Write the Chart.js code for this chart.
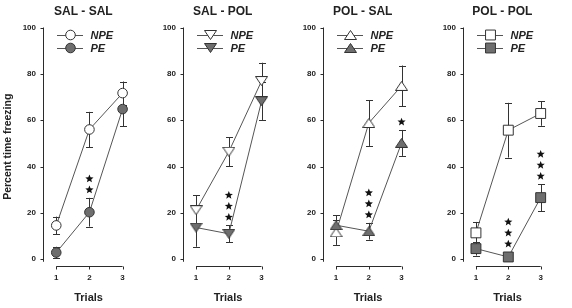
<!DOCTYPE html>
<html lang="en">
  <head>
    <meta charset="UTF-8" />
    <title>Percent time freezing</title>
    <script src="https://cdn.jsdelivr.net/npm/chart.js"></script>
    <style>
      body {
        margin: 0;
        background: #fff;
      }
      .wrap {
        position: relative;
        width: 572px;
        height: 308px;
        background: #fff;
      }
      .wrap canvas {
        position: absolute;
        top: 0;
      }
    </style>
  </head>
  <body>
    <div class="wrap">
      <canvas id="p0" width="140" height="308" style="left: 0px"></canvas>
      <canvas id="p1" width="140" height="308" style="left: 140px"></canvas>
      <canvas id="p2" width="140" height="308" style="left: 280px"></canvas>
      <canvas id="p3" width="140" height="308" style="left: 420px"></canvas>
    </div>

    <script>
      // x categories and y ticks
      const trials = [1, 2, 3];
      const yTicks = [0, 20, 40, 60, 80, 100];
      const panelTitles = ["SAL - SAL", "SAL - POL", "POL - SAL", "POL - POL"];

      // SAL - SAL
      const salSalNpe = [14.6, 56.0, 71.7];
      const salSalNpeErr = [3.8, 7.6, 5.0];
      const salSalPe = [2.9, 20.3, 64.8];
      const salSalPeErr = [2.5, 6.2, 7.5];
      const salSalStars = [0, 2, 0];

      // SAL - POL
      const salPolNpe = [21.2, 46.4, 76.9];
      const salPolNpeErr = [6.4, 6.2, 7.9];
      const salPolPe = [13.7, 11.0, 68.2];
      const salPolPeErr = [8.3, 3.7, 8.1];
      const salPolStars = [0, 3, 0];

      // POL - SAL
      const polSalNpe = [11.6, 58.8, 74.8];
      const polSalNpeErr = [5.4, 9.9, 8.8];
      const polSalPe = [14.7, 12.1, 50.2];
      const polSalPeErr = [4.4, 3.6, 5.6];
      const polSalStars = [0, 3, 1];

      // POL - POL
      const polPolNpe = [11.4, 55.7, 62.9];
      const polPolNpeErr = [4.7, 11.8, 5.3];
      const polPolPe = [4.6, 1.0, 26.6];
      const polPolPeErr = [3.0, 1.0, 5.8];
      const polPolStars = [0, 3, 3];

      Chart.defaults.font.family = "'Liberation Sans', Arial, sans-serif";
      Chart.defaults.color = "#222";

      const npeFill = "#ffffff";
      const peFill = "#6e6e6e";
      const edge = "#333";

      // flat SigmaPlot-like triangles as small canvases
      function triangleMarker(fill, down) {
        const c = document.createElement("canvas");
        c.width = 13;
        c.height = 10;
        const g = c.getContext("2d");
        g.fillStyle = fill;
        g.strokeStyle = edge;
        g.lineWidth = 1;
        g.beginPath();
        if (down) {
          g.moveTo(0.5, 0.5);
          g.lineTo(12.5, 0.5);
          g.lineTo(6.5, 9.5);
        } else {
          g.moveTo(0.5, 9.5);
          g.lineTo(12.5, 9.5);
          g.lineTo(6.5, 0.5);
        }
        g.closePath();
        g.fill();
        g.stroke();
        return c;
      }

      function markerFor(idx, fill) {
        if (idx === 0) return { pointStyle: "circle", radius: 4.8 };
        if (idx === 1) return { pointStyle: triangleMarker(fill, true), radius: 6 };
        if (idx === 2) return { pointStyle: triangleMarker(fill, false), radius: 6 };
        return { pointStyle: "rect", radius: 7 };
      }

      const panels = [
        { npe: salSalNpe, npeErr: salSalNpeErr, pe: salSalPe, peErr: salSalPeErr, stars: salSalStars },
        { npe: salPolNpe, npeErr: salPolNpeErr, pe: salPolPe, peErr: salPolPeErr, stars: salPolStars },
        { npe: polSalNpe, npeErr: polSalNpeErr, pe: polSalPe, peErr: polSalPeErr, stars: polSalStars },
        { npe: polPolNpe, npeErr: polPolNpeErr, pe: polPolPe, peErr: polPolPeErr, stars: polPolStars },
      ];

      const axisColor = "#2b2b2b";

      function drawStar(ctx, cx, cy, outer, inner) {
        ctx.beginPath();
        for (let i = 0; i < 10; i++) {
          const r = i % 2 ? inner : outer;
          const a = -Math.PI / 2 + (i * Math.PI) / 5;
          ctx.lineTo(cx + r * Math.cos(a), cy + r * Math.sin(a));
        }
        ctx.closePath();
        ctx.fill();
      }

      function drawMarker(ctx, ds, x, y) {
        ctx.save();
        ctx.fillStyle = ds.pointBackgroundColor;
        ctx.strokeStyle = ds.pointBorderColor;
        ctx.lineWidth = ds.pointBorderWidth;
        Chart.helpers.drawPoint(
          ctx,
          {
            pointStyle: ds.pointStyle,
            radius: ds.pointRadius,
            rotation: 0,
            borderWidth: ds.pointBorderWidth,
          },
          x,
          y
        );
        ctx.restore();
      }

      const panelDecor = {
        id: "panelDecor",
        beforeDatasetsDraw(chart, args, opts) {
          const ctx = chart.ctx;
          const xs = chart.scales.x;
          const ys = chart.scales.y;
          ctx.save();
          ctx.strokeStyle = axisColor;
          ctx.lineWidth = 1;

          // y axis with outward ticks
          const ax = Math.round(chart.chartArea.left) + 0.5;
          ctx.beginPath();
          ctx.moveTo(ax, ys.getPixelForValue(100));
          ctx.lineTo(ax, ys.getPixelForValue(0) + 2.5);
          yTicks.forEach((v) => {
            const py = Math.round(ys.getPixelForValue(v)) + 0.5;
            ctx.moveTo(ax, py);
            ctx.lineTo(ax - 3, py);
          });
          ctx.stroke();

          // x axis spanning first to last trial
          const by = Math.round(chart.chartArea.bottom) + 0.5;
          ctx.beginPath();
          ctx.moveTo(xs.getPixelForValue(trials[0]), by);
          ctx.lineTo(xs.getPixelForValue(trials[trials.length - 1]), by);
          trials.forEach((t) => {
            const px = Math.round(xs.getPixelForValue(t)) + 0.5;
            ctx.moveTo(px, by);
            ctx.lineTo(px, by + 3);
          });
          ctx.stroke();

          // error bars
          ctx.strokeStyle = edge;
          chart.data.datasets.forEach((ds) => {
            ds.data.forEach((p, i) => {
              const e = ds.errors[i];
              const px = Math.round(xs.getPixelForValue(p.x)) + 0.5;
              const top = ys.getPixelForValue(p.y + e);
              const bot = ys.getPixelForValue(p.y - e);
              ctx.beginPath();
              ctx.moveTo(px, top);
              ctx.lineTo(px, bot);
              ctx.moveTo(px - 3.5, Math.round(top) + 0.5);
              ctx.lineTo(px + 3.5, Math.round(top) + 0.5);
              ctx.moveTo(px - 3.5, Math.round(bot) + 0.5);
              ctx.lineTo(px + 3.5, Math.round(bot) + 0.5);
              ctx.stroke();
            });
          });
          ctx.restore();
        },
        afterDatasetsDraw(chart, args, opts) {
          const ctx = chart.ctx;
          const xs = chart.scales.x;
          const ys = chart.scales.y;
          const area = chart.chartArea;
          ctx.save();

          // significance stars above PE error bar
          const pe = chart.data.datasets[0];
          ctx.fillStyle = "#111";
          opts.stars.forEach((n, i) => {
            if (!n) return;
            const p = pe.data[i];
            const anchor = Math.min(
              ys.getPixelForValue(p.y + pe.errors[i]),
              ys.getPixelForValue(p.y) - 5
            );
            const px = xs.getPixelForValue(p.x);
            for (let k = 0; k < n; k++) {
              drawStar(ctx, px, anchor - 8 - k * 11, 4.3, 1.9);
            }
          });

          // panel title
          const cx = (area.left + xs.getPixelForValue(trials[trials.length - 1])) / 2 + 0.5;
          ctx.fillStyle = "#222";
          ctx.font = "bold 12px 'Liberation Sans', Arial, sans-serif";
          ctx.textAlign = "center";
          ctx.textBaseline = "middle";
          ctx.fillText(opts.title, cx, 11.5);

          // legend: NPE row then PE row
          const rows = [chart.data.datasets[1], chart.data.datasets[0]];
          ctx.font = "italic bold 11px 'Liberation Sans', Arial, sans-serif";
          ctx.textAlign = "left";
          rows.forEach((ds, r) => {
            const ly = 35 + r * 13;
            ctx.strokeStyle = "#555";
            ctx.lineWidth = 1;
            ctx.beginPath();
            ctx.moveTo(57, Math.round(ly) + 0.5);
            ctx.lineTo(83, Math.round(ly) + 0.5);
            ctx.stroke();
            drawMarker(ctx, ds, 70.5, ly);
            ctx.fillStyle = "#222";
            ctx.fillText(ds.label, 90.5, ly + 0.5);
          });
          ctx.restore();
        },
      };

      function makeSeries(label, values, errors, fill, marker, order) {
        return {
          label: label,
          data: trials.map((t, i) => ({ x: t, y: values[i] })),
          errors: errors,
          borderColor: "#555",
          borderWidth: 1,
          backgroundColor: fill,
          pointStyle: marker.pointStyle,
          pointRadius: marker.radius,
          pointHoverRadius: marker.radius,
          pointBackgroundColor: fill,
          pointBorderColor: edge,
          pointBorderWidth: 1,
          tension: 0,
          fill: false,
          order: order,
        };
      }

      panels.forEach((panel, idx) => {
        new Chart(document.getElementById("p" + idx), {
          type: "line",
          data: {
            datasets: [
              makeSeries("PE", panel.pe, panel.peErr, peFill, markerFor(idx, peFill), 0),
              makeSeries("NPE", panel.npe, panel.npeErr, npeFill, markerFor(idx, npeFill), 1),
            ],
          },
          options: {
            responsive: false,
            animation: false,
            devicePixelRatio: 1,
            layout: { padding: { top: 27.5, left: 0, right: 0, bottom: 0 } },
            plugins: {
              legend: { display: false },
              tooltip: { enabled: false },
              panelDecor: { title: panelTitles[idx], stars: panel.stars },
            },
            scales: {
              x: {
                type: "linear",
                min: 0.6,
                max: 3.35,
                afterBuildTicks: (s) => {
                  s.ticks = trials.map((v) => ({ value: v }));
                },
                afterFit: (s) => {
                  s.height = 42;
                },
                grid: { display: false, drawTicks: false },
                border: { display: false },
                ticks: {
                  padding: 7,
                  maxRotation: 0,
                  font: { size: 8, weight: "bold" },
                  color: "#222",
                },
                title: {
                  display: true,
                  text: "Trials",
                  font: { size: 11, weight: "bold" },
                  color: "#222",
                  padding: { top: 0, bottom: 3.5 },
                },
              },
              y: {
                type: "linear",
                min: -2.9,
                max: 100,
                afterBuildTicks: (s) => {
                  s.ticks = yTicks.map((v) => ({ value: v }));
                },
                afterFit: (s) => {
                  s.width = 43;
                },
                grid: { display: false, drawTicks: false },
                border: { display: false },
                ticks: {
                  padding: 7,
                  font: { size: 8, weight: "bold" },
                  color: "#222",
                },
                title: {
                  display: idx === 0,
                  text: "Percent time freezing",
                  font: { size: 10.5, weight: "bold" },
                  color: "#222",
                  padding: { top: 1.7, bottom: 0 },
                },
              },
            },
          },
          plugins: [panelDecor],
        });
      });
    </script>
  </body>
</html>
